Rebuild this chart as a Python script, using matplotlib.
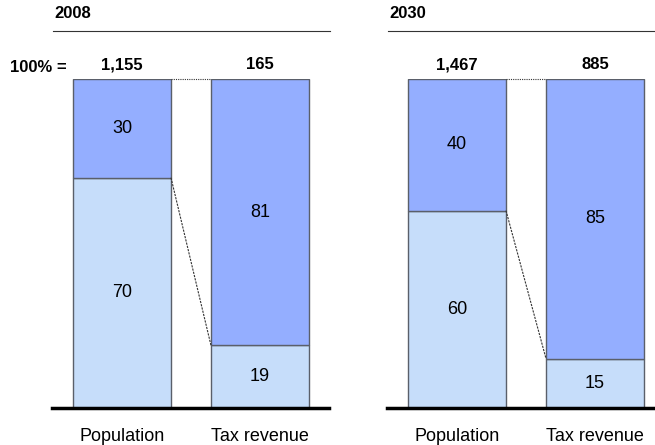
import matplotlib
matplotlib.use("Agg")
import matplotlib.pyplot as plt
from matplotlib.lines import Line2D

plt.rcParams['font.family'] = ['Liberation Sans', 'DejaVu Sans']

# data
years = ["2008", "2030"]
categories = ["Population", "Tax revenue"]
totals = [["1,155", "165"], ["1,467", "885"]]
lower_share = [[70, 19], [60, 15]]   # light segment (bottom)
upper_share = [[30, 81], [40, 85]]   # dark segment (top)

light = "#c6ddfa"
dark = "#94aeff"
edge = "#5a5f6a"

W, H = 655, 445
fig = plt.figure(figsize=(W / 100, H / 100), dpi=100)

# axes placement in pixels (left, right)
panels = [(52, 329), (387, 655)]
top_px, bot_px = 79, 408
unit = 138.0
bar_w = 0.71

for i, (x0, x1) in enumerate(panels):
    ax = fig.add_axes([x0 / W, (H - bot_px) / H, (x1 - x0) / W, (bot_px - top_px) / H])
    left_lim = -(122 - 52) / unit
    ax.set_xlim(left_lim, left_lim + (x1 - x0) / unit)
    ax.set_ylim(0, 100)
    xs = [0, 1]
    ax.bar(xs, lower_share[i], width=bar_w, color=light, edgecolor=edge, linewidth=1, zorder=2)
    ax.bar(xs, upper_share[i], bottom=lower_share[i], width=bar_w, color=dark,
           edgecolor=edge, linewidth=1, zorder=2)
    for x in xs:
        lo = lower_share[i][x]
        up = upper_share[i][x]
        ax.text(x, lo / 2, str(lo), ha="center", va="center", fontsize=13)
        ax.text(x, lo + up / 2, str(up), ha="center", va="center", fontsize=13)
        ax.text(x, 102, totals[i][x], ha="center", va="bottom", fontsize=12,
                fontweight="bold", clip_on=False)
        ax.text(x, -6, categories[x], ha="center", va="top", fontsize=13, clip_on=False)
    # connectors
    ax.plot([bar_w / 2, 1 - bar_w / 2], [100, 100], color="#333333", lw=0.8,
            ls=(0, (1, 1)), clip_on=False, zorder=3)
    ax.plot([bar_w / 2, 1 - bar_w / 2], [lower_share[i][0], lower_share[i][1]],
            color="#333333", lw=0.8, ls=(0, (2, 1)), zorder=3)
    for s in ["top", "left", "right"]:
        ax.spines[s].set_visible(False)
    ax.spines["bottom"].set_linewidth(2.5)
    ax.spines["bottom"].set_color("black")
    ax.set_xticks([])
    ax.set_yticks([])
    ax.patch.set_alpha(0)

    # panel title with underline
    fig.text((x0 + 2) / W, 1 - 14 / H, years[i], ha="left", va="center",
             fontsize=12, fontweight="bold")
    fig.add_artist(Line2D([(x0 + 1) / W, min(x1 + 1, W) / W], [1 - 31 / H, 1 - 31 / H],
                          color="#333333", lw=0.8))

fig.text(10 / W, 1 - 67 / H, "100% =", ha="left", va="center", fontsize=12,
         fontweight="bold")

fig.savefig("out.png", dpi=100)
